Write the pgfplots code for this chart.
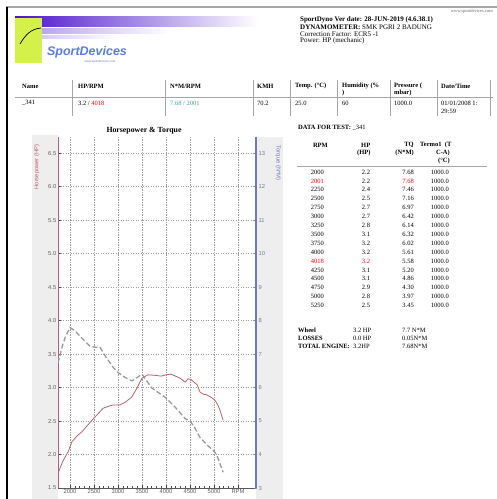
\documentclass[border=0pt]{standalone}
\usepackage{pgfplots}
\pgfplotsset{compat=1.18}
\usepackage{fontspec}
\setmainfont{Liberation Serif}
\newfontfamily\arial{Liberation Sans}
\definecolor{hpred}{HTML}{B5656B}
\definecolor{axisred}{HTML}{C0606E}
\definecolor{tqblue}{HTML}{7078B8}
\definecolor{tqgray}{HTML}{999999}
\definecolor{band}{HTML}{EEEEEE}
\definecolor{teal2}{HTML}{3FA3A3}
\definecolor{logoyel}{HTML}{D4F04A}
\definecolor{logopur}{HTML}{4B14CC}
\definecolor{logoblue}{HTML}{5A7DE0}
\begin{document}
\begin{tikzpicture}
\useasboundingbox (0pt,0pt) rectangle (497pt,-499pt);
\begin{scope}[x=1pt,y=-1pt,
  t/.style={anchor=west, inner sep=0pt, font=\fontsize{6.5}{7}\selectfont},
  tb/.style={anchor=west, inner sep=0pt, font=\bfseries\fontsize{6.5}{7}\selectfont},
  te/.style={anchor=east, inner sep=0pt, font=\fontsize{6.5}{7}\selectfont},
  teb/.style={anchor=east, inner sep=0pt, font=\bfseries\fontsize{6.5}{7}\selectfont},
  tc/.style={anchor=center, inner sep=0pt, font=\fontsize{6.5}{7}\selectfont}]
% page border
\fill[white] (0,0) rectangle (497,499);
\draw[gray!70, line width=1.6pt] (6,7) -- (497,7);
\draw[black, line width=1.2pt] (7,7) -- (7,499);
% logo
\shade[left color=logopur, right color=white] (15,16) rectangle (258,26);
\shade[left color=logopur!45, right color=white] (15,28) rectangle (170,33);
\shade[left color=logopur!30, right color=white] (15,35) rectangle (120,38);
\fill[logoyel] (15,18) rectangle (42,63);
\draw[black, line width=0.7pt] (20,44) .. controls (26,34) and (31,29) .. (41,28);
\node[inner sep=0pt, text=logoblue, font=\arial\bfseries\itshape\fontsize{12.5}{13}\selectfont] at (87,52) {SportDevices};
\node[inner sep=0pt, text=logoblue!70!gray, font=\arial\fontsize{3}{3.5}\selectfont] at (100,62) {www.sportdevices.com};
% header text
\node[inner sep=0pt, anchor=east, text=gray!80!black, font=\fontsize{4.5}{5}\selectfont] at (493,11) {www.sportdevices.com};
\node[inner sep=0pt, anchor=west, font=\bfseries\fontsize{7}{8}\selectfont] at (300,20) {SportDyno Ver date: 28-JUN-2019 (4.6.38.1)};
\node[inner sep=0pt, anchor=west, font=\fontsize{7}{8}\selectfont] at (300,27) {\textbf{DYNAMOMETER:} SMK PGRI 2 BADUNG};
\node[inner sep=0pt, anchor=west, font=\fontsize{7}{8}\selectfont] at (300,34) {Correction Factor: ECR5 -1};
\node[inner sep=0pt, anchor=west, font=\fontsize{7}{8}\selectfont] at (300,41) {Power: HP (mechanic)};
% summary table
\foreach \xs in {72,165,253,290,337,390,437,490} {\draw[gray!70, line width=0.5pt] (\xs,80) -- (\xs,116);}
\draw[gray!70, line width=0.6pt] (15,97) -- (493,97);
\node[tb] at (22,86) {Name};
\node[tb] at (78,86) {HP/RPM};
\node[tb] at (170,86) {N*M/RPM};
\node[tb] at (257,86) {KMH};
\node[tb] at (295,86) {Temp. (°C)};
\node[tb] at (342,86) {Humidity (\%};
\node[tb] at (342,93) {)};
\node[tb] at (394,86) {Pressure (};
\node[tb] at (394,93) {mbar)};
\node[tb] at (441,86) {Date/Time};
\node[t] at (22,103) {\_341};
\node[t] at (78,103) {3.2 / \textcolor{red}{4018}};
\node[t] at (170,103) {\textcolor{teal2}{7.68 / 2001}};
\node[t] at (257,103) {70.2};
\node[t] at (295,103) {25.0};
\node[t] at (342,103) {60};
\node[t] at (394,103) {1000.0};
\node[t] at (441,103) {01/01/2008 1:};
\node[t] at (441,111) {29:59};
% chart title
\node[inner sep=0pt, font=\bfseries\fontsize{7.8}{8}\selectfont] at (144,131) {Horsepower \& Torque};
% gray bands
\fill[band] (32,135) rectangle (58,499);
\fill[band] (256,137) rectangle (283,499);
\node[inner sep=0pt, rotate=90, text=axisred, font=\arial\fontsize{5.8}{6}\selectfont] at (37,167) {Horsepower (HP)};
\node[inner sep=0pt, rotate=-90, text=tqblue, font=\arial\fontsize{5.8}{6}\selectfont] at (278,163) {Torque (N*M)};
% data table
\node[tb] at (298,128) {DATA FOR TEST:\ \mdseries \_341};
\node[teb] at (328,145) {RPM};
\node[tb] at (361,145) {HP};
\node[tb] at (357,153) {(HP)};
\node[teb] at (414,145) {TQ};
\node[teb] at (414,153) {(N*M)};
\node[tb] at (420,145) {Termo1 \ (T};
\node[teb] at (450,153) {C-A)};
\node[teb] at (450,161) {(°C)};
\draw[gray!70, line width=0.7pt] (297,166) -- (487,166);
\foreach \r/\h/\q/\ca/\cb/\cc [count=\i from 0] in {
 2000/2.2/7.68/black/black/black,
 2001/2.2/7.68/red/black/red,
 2250/2.4/7.46/black/black/black,
 2500/2.5/7.16/black/black/black,
 2750/2.7/6.97/black/black/black,
 3000/2.7/6.42/black/black/black,
 3250/2.8/6.14/black/black/black,
 3500/3.1/6.32/black/black/black,
 3750/3.2/6.02/black/black/black,
 4000/3.2/5.61/black/black/black,
 4018/3.2/5.58/red/red/black,
 4250/3.1/5.20/black/black/black,
 4500/3.1/4.86/black/black/black,
 4750/2.9/4.30/black/black/black,
 5000/2.8/3.97/black/black/black,
 5250/2.5/3.45/black/black/black} {
  \node[te, text=\ca] at (324,{172+8.9*\i}) {\r};
  \node[tc, text=\cb] at (366,{172+8.9*\i}) {\h};
  \node[te, text=\cc] at (414,{172+8.9*\i}) {\q};
  \node[te] at (449,{172+8.9*\i}) {1000.0};
}
\node[tb] at (298,330) {Wheel};
\node[tb] at (298,338) {LOSSES};
\node[tb] at (298,346) {TOTAL ENGINE:};
\node[t] at (353,330) {3.2 HP};
\node[t] at (353,338) {0.0 HP};
\node[t] at (353,346) {3.2HP};
\node[t] at (402,330) {7.7 N*M};
\node[t] at (402,338) {0.05N*M};
\node[t] at (402,346) {7.68N*M};
\end{scope}
% HP axis
\begin{axis}[
  at={(58pt,-488pt)}, anchor=south west,
  scale only axis, width=198pt, height=351pt,
  xmin=1750, xmax=5875, ymin=1.5, ymax=6.74,
  axis x line*=bottom, axis y line*=left,
  x axis line style={-, draw=gray!70!black, line width=0.6pt},
  y axis line style={-, draw=axisred, line width=1pt},
  xtick={2000,2500,...,5500},
  xticklabels={2000,2500,3000,3500,4000,4500,5000,RPM},
  minor x tick num=4,
  ytick={1.5,2,...,6.5},
  grid=major,
  major grid style={draw=gray!75, dash pattern=on 1.2pt off 1.3pt, line width=0.6pt},
  tick align=inside,
  major tick length=3pt, minor tick length=2.5pt,
  every tick/.style={draw=gray!60!black, line width=0.45pt},
  /pgf/number format/assume math mode=true,
  yticklabel style={/pgf/number format/fixed, /pgf/number format/fixed zerofill, /pgf/number format/precision=1},
  ticklabel style={font=\arial\fontsize{5.8}{6}\selectfont, text=gray!75!black, inner sep=1.5pt},
]
\addplot[hpred, line width=0.8pt] coordinates {
(1750,1.72)(1850,1.90)(1960,2.04)(2040,2.19)(2150,2.28)(2250,2.34)(2370,2.44)(2480,2.53)
(2600,2.62)(2690,2.69)(2800,2.72)(2900,2.74)(3040,2.74)(3150,2.78)(3290,2.86)(3400,3.00)
(3500,3.14)(3625,3.19)(3800,3.18)(3900,3.17)(4000,3.19)(4100,3.20)(4200,3.17)(4290,3.14)
(4400,3.08)(4460,3.13)(4520,3.12)(4650,3.04)(4710,2.93)(4780,2.90)(4850,2.89)(4950,2.85)
(5020,2.81)(5080,2.74)(5125,2.66)(5190,2.51)};
\end{axis}
% Torque axis
\begin{axis}[
  at={(58pt,-488pt)}, anchor=south west,
  scale only axis, width=198pt, height=351pt,
  xmin=1750, xmax=5875, ymin=3, ymax=13.48,
  axis y line*=right, axis x line=none,
  y axis line style={-, draw=tqblue, line width=1.2pt},
  ytick={3,...,13},
  tick align=inside, major tick length=2pt,
  every tick/.style={draw=tqblue, line width=0.45pt},
  /pgf/number format/assume math mode=true,
  ticklabel style={font=\arial\fontsize{5.8}{6}\selectfont, text=tqblue!60!gray, inner sep=2.5pt},
]
\addplot[tqgray, line width=1.3pt, dash pattern=on 5pt off 2.5pt] coordinates {
(1750,6.73)(1833,7.2)(1900,7.5)(2000,7.79)(2100,7.7)(2250,7.47)(2420,7.23)(2550,7.2)
(2625,7.2)(2730,6.95)(2900,6.6)(3000,6.45)(3150,6.3)(3290,6.2)(3400,6.3)(3500,6.4)
(3700,5.99)(4000,5.69)(4200,5.4)(4400,5.07)(4500,5.0)(4600,4.8)(4710,4.5)(4870,4.27)
(5020,4.07)(5080,3.9)(5190,3.47)};
\end{axis}
\end{tikzpicture}
\end{document}
